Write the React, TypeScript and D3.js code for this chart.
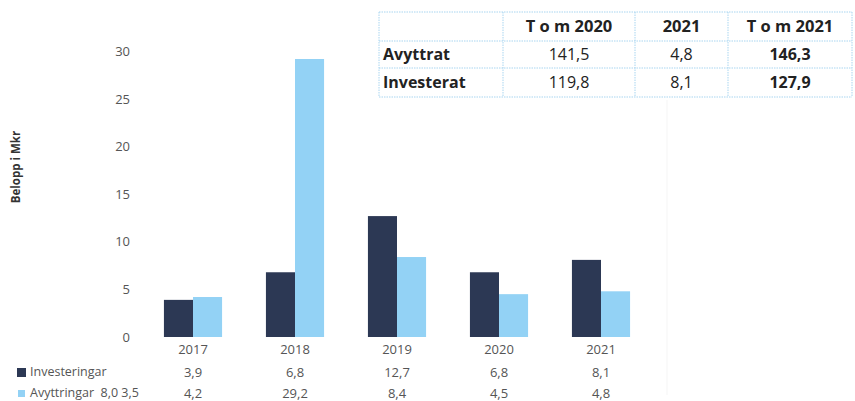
import React from "react";
import * as d3 from "d3";

const years = ["2017", "2018", "2019", "2020", "2021"];
const investeringar = [3.9, 6.8, 12.7, 6.8, 8.1];
const avyttringar = [4.2, 29.2, 8.4, 4.5, 4.8];
const investeringarLabels = ["3,9", "6,8", "12,7", "6,8", "8,1"];
const avyttringarLabels = ["4,2", "29,2", "8,4", "4,5", "4,8"];
const yTicks = [0, 5, 10, 15, 20, 25, 30];

const tableHeaders = ["", "T o m 2020", "2021", "T o m 2021"];
const tableRowLabels = ["Avyttrat", "Investerat"];
const tableTomPrev = ["141,5", "119,8"];
const tableYear = ["4,8", "8,1"];
const tableTotal = ["146,3", "127,9"];

const DARK = "#2c3854";
const LIGHT = "#93d2f5";
const FONT = "'Open Sans', 'Noto Sans', sans-serif";

export default function App() {
  const W = 855;
  const H = 401;
  const x = d3
    .scaleBand<string>()
    .domain(years)
    .range([142, 652])
    .paddingInner(0.43)
    .paddingOuter(0.215);
  const sub = d3
    .scaleBand<string>()
    .domain(["inv", "avy"])
    .range([0, x.bandwidth()]);
  const y = d3.scaleLinear().domain([0, 29.2]).range([337, 59]);

  const colX = [379, 503, 635, 728, 852];
  const rowY = [12, 41, 68, 97];
  const tableRows = tableRowLabels.map((l, i) => [l, tableTomPrev[i], tableYear[i], tableTotal[i]]);
  const gridColor = "#a9d5f0";

  return (
    <svg
      width={W}
      height={H}
      style={{ position: "absolute", left: 0, top: 0, background: "#fff" }}
      fontFamily={FONT}
    >
      <line x1={667} x2={667} y1={100} y2={395} stroke="#f5f5f5" strokeWidth={1} />

      <text
        transform={`translate(20,167) rotate(-90)`}
        textAnchor="middle"
        fontSize={11.5}
        fontWeight="bold"
        fill="#333"
      >
        Belopp i Mkr
      </text>

      {yTicks.map((t) => (
        <text key={t} x={130} y={y(t)} dy="0.35em" textAnchor="end" fontSize={13} fill="#555">
          {t}
        </text>
      ))}

      {years.map((yr, i) => (
        <g key={yr} transform={`translate(${x(yr)},0)`}>
          <rect
            x={sub("inv")}
            y={y(investeringar[i])}
            width={sub.bandwidth()}
            height={y(0) - y(investeringar[i])}
            fill={DARK}
          />
          <rect
            x={sub("avy")}
            y={y(avyttringar[i])}
            width={sub.bandwidth()}
            height={y(0) - y(avyttringar[i])}
            fill={LIGHT}
          />
        </g>
      ))}

      {years.map((yr, i) => {
        const cx = (x(yr) as number) + x.bandwidth() / 2;
        return (
          <g key={"l" + yr}>
            <text x={cx} y={349} dy="0.35em" textAnchor="middle" fontSize={13} fill="#555">
              {yr}
            </text>
            <text x={cx} y={372} dy="0.35em" textAnchor="middle" fontSize={13} fill="#555">
              {investeringarLabels[i]}
            </text>
            <text x={cx} y={393} dy="0.35em" textAnchor="middle" fontSize={13} fill="#555">
              {avyttringarLabels[i]}
            </text>
          </g>
        );
      })}

      <rect x={17} y={368} width={9} height={9} fill={DARK} />
      <text x={30} y={372} dy="0.35em" fontSize={12.5} fill="#555">
        Investeringar
      </text>
      <rect x={18} y={390} width={7} height={7} fill={LIGHT} />
      <text x={30} y={393} dy="0.35em" fontSize={12.5} fill="#555" style={{ whiteSpace: "pre" }}>
        {"Avyttringar  8,0 3,5"}
      </text>

      <g>
        {rowY.map((ry, i) => (
          <line
            key={"h" + i}
            x1={colX[0]}
            x2={colX[colX.length - 1]}
            y1={ry}
            y2={ry}
            stroke={gridColor}
            strokeWidth={1}
            strokeDasharray="1.5 1"
          />
        ))}
        {colX.map((cx, i) => (
          <line
            key={"v" + i}
            x1={cx}
            x2={cx}
            y1={rowY[0]}
            y2={rowY[rowY.length - 1]}
            stroke={gridColor}
            strokeWidth={1}
            strokeDasharray="1.5 1"
          />
        ))}
        {tableHeaders.map((h, j) =>
          j === 0 ? null : (
            <text
              key={"th" + j}
              x={(colX[j] + colX[j + 1]) / 2}
              y={(rowY[0] + rowY[1]) / 2}
              dy="0.35em"
              textAnchor="middle"
              fontSize={16.5}
              fontWeight="bold"
              fill="#222"
              style={{ whiteSpace: "pre" }}
            >
              {h}
            </text>
          )
        )}
        {tableRows.map((row, r) =>
          row.map((cell, j) => (
            <text
              key={`c${r}-${j}`}
              x={j === 0 ? colX[0] + 4 : (colX[j] + colX[j + 1]) / 2}
              y={(rowY[r + 1] + rowY[r + 2]) / 2}
              dy="0.35em"
              textAnchor={j === 0 ? "start" : "middle"}
              fontSize={16}
              fontWeight={j === 0 || j === 3 ? "bold" : "normal"}
              fill="#222"
            >
              {cell}
            </text>
          ))
        )}
      </g>
    </svg>
  );
}
